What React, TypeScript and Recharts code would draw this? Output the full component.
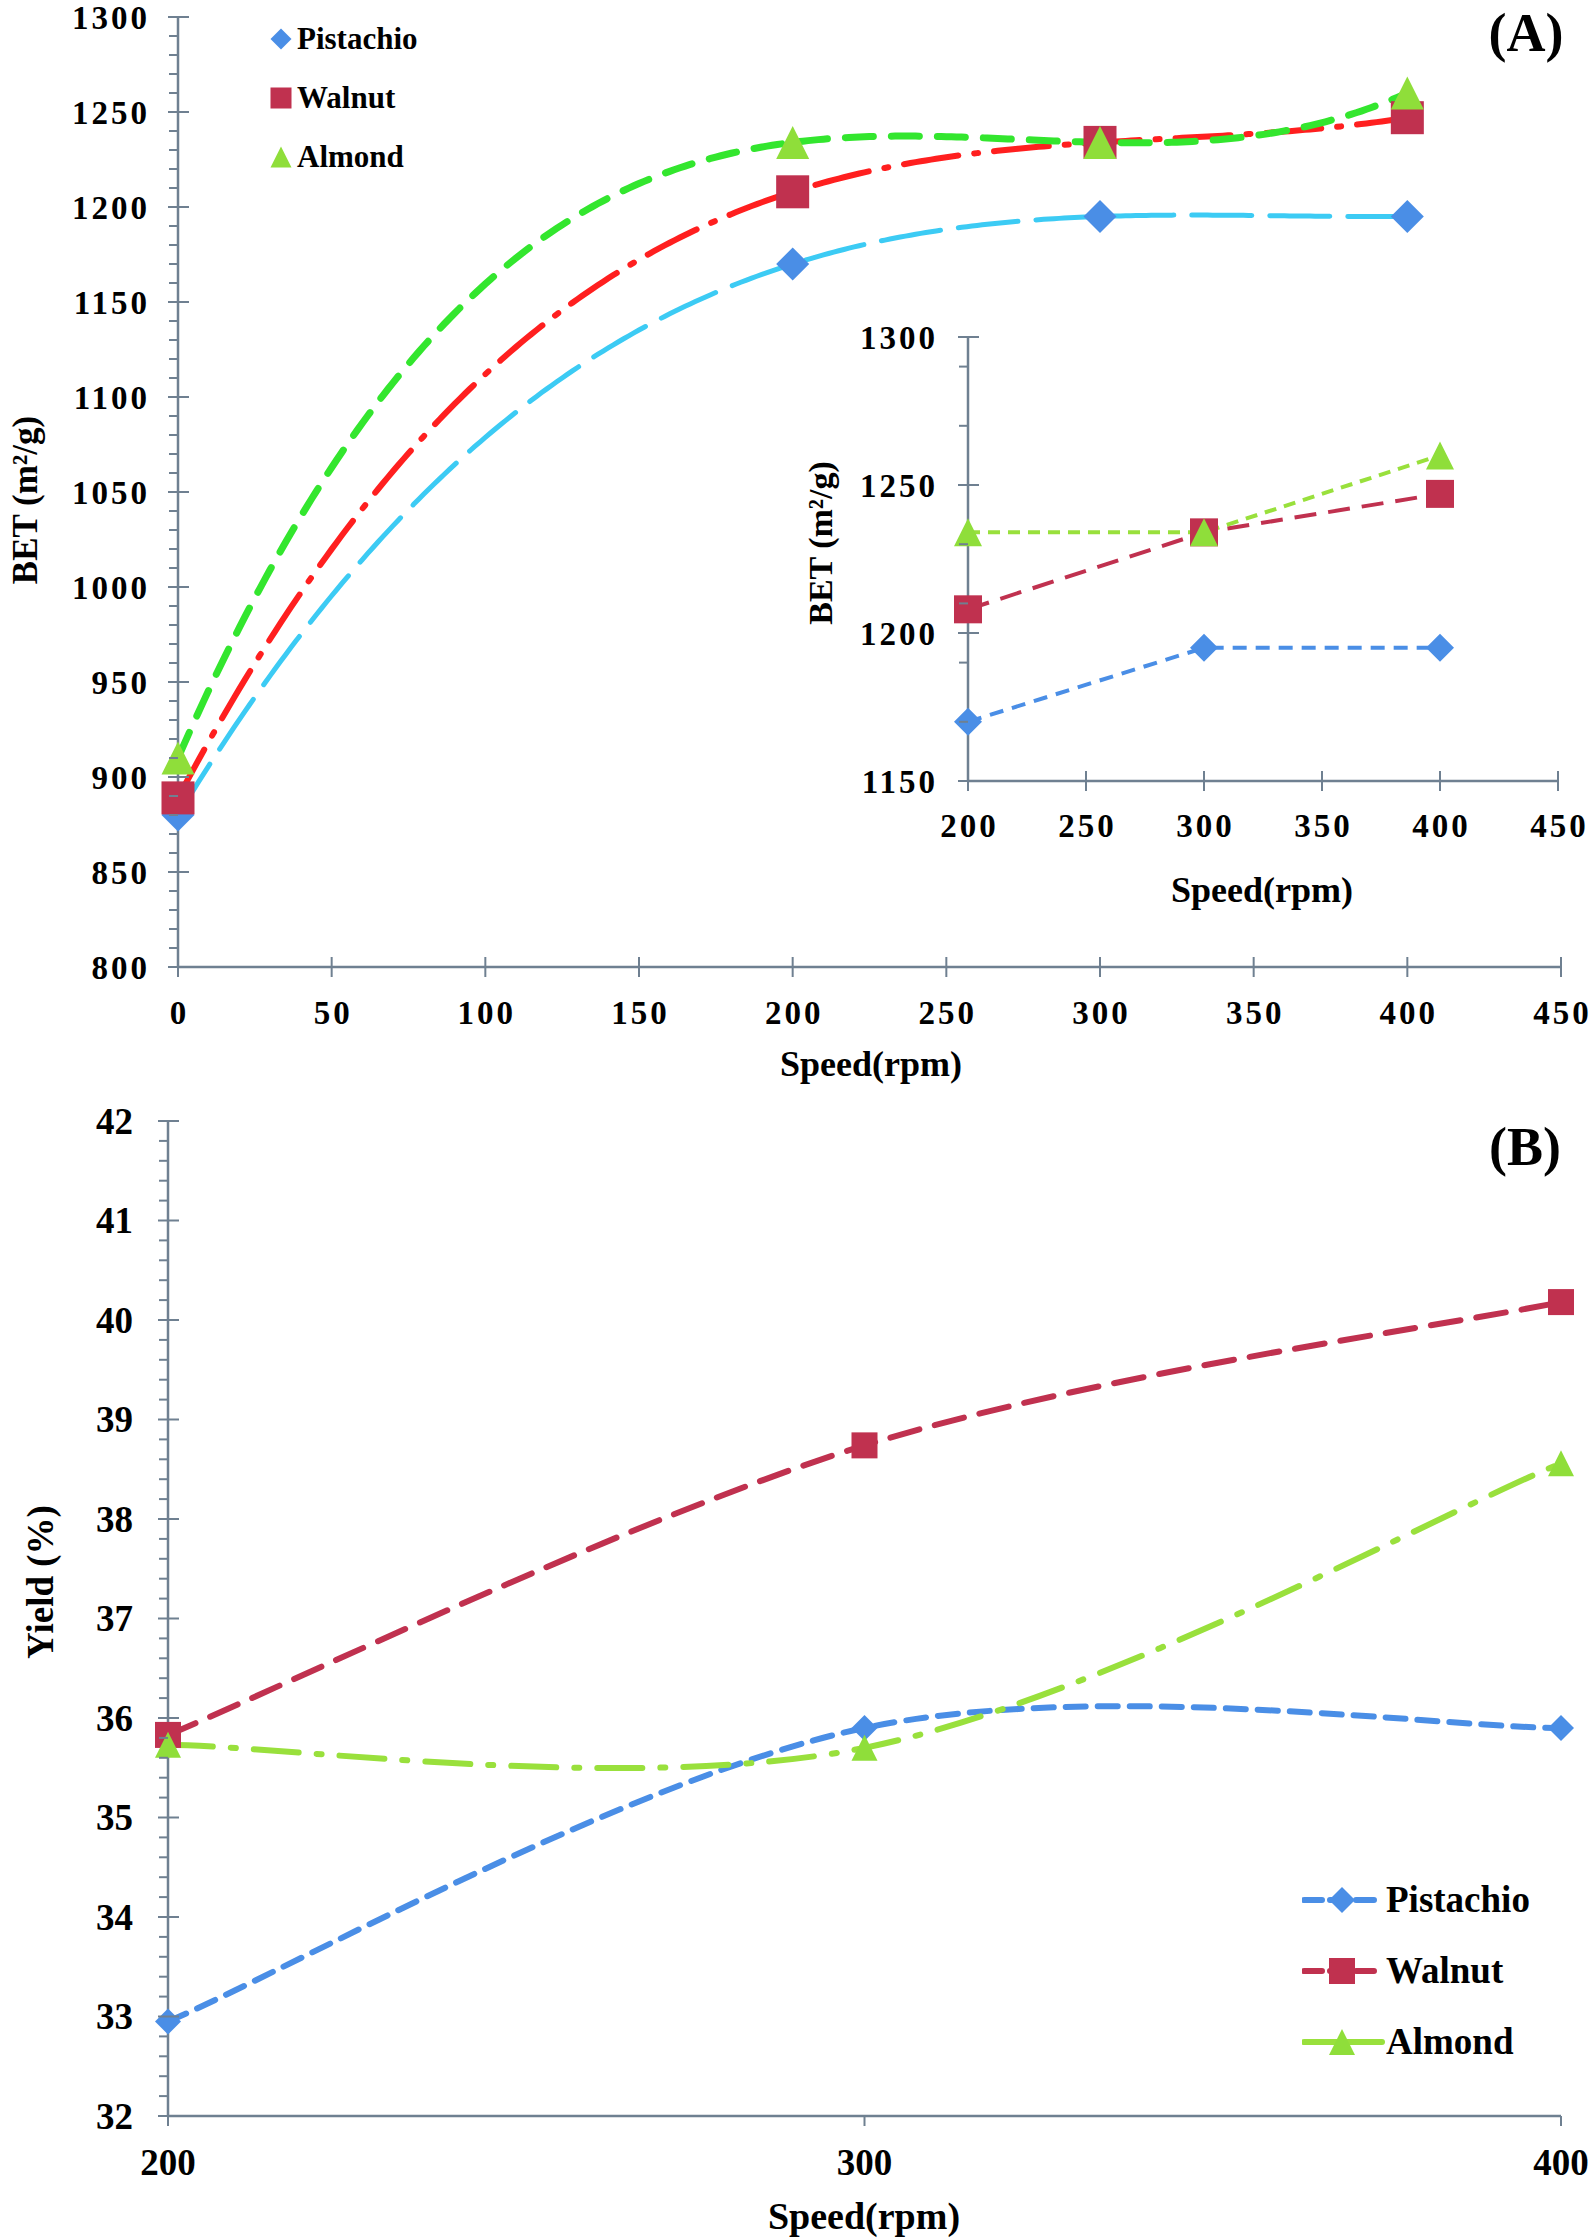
import React from 'react';
import { LineChart, Line, XAxis, YAxis, Legend } from 'recharts';

// ---- data ----
const speedA = [0, 200, 300, 400];
const betPistachio = [880, 1170, 1195, 1195];
const betWalnut = [889, 1208, 1234, 1247];
const betAlmond = [910, 1234, 1234, 1260];

const speedB = [200, 300, 400];
const yieldPistachio = [32.95, 35.9, 35.9];
const yieldWalnut = [35.83, 38.74, 40.18];
const yieldAlmond = [35.73, 35.7, 38.56];

const betTicks = [800, 850, 900, 950, 1000, 1050, 1100, 1150, 1200, 1250, 1300];
const speedTicksA = [0, 50, 100, 150, 200, 250, 300, 350, 400, 450];
const insetBetTicks = [1150, 1200, 1250, 1300];
const insetSpeedTicks = [200, 250, 300, 350, 400, 450];
const yieldTicks = [32, 33, 34, 35, 36, 37, 38, 39, 40, 41, 42];
const speedTicksB = [200, 300, 400];

const AXIS = '#6f8091';
const FONT = "'Liberation Serif', 'Times New Roman', serif";

const MARK = { pistachio: '#4a8ee6', walnut: '#c0314f', almond: '#8fde3a' };
const TREND = { pistachio: '#3ccbf4', walnut: '#ff1f1f', almond: '#33e62e' };
const INSET = { pistachio: '#4a8ee6', walnut: '#c0314f', almond: '#99e03c' };

type Kind = 'diamond' | 'square' | 'triangle';

const series: { key: 'pistachio' | 'walnut' | 'almond'; name: string; kind: Kind }[] = [
  { key: 'pistachio', name: 'Pistachio', kind: 'diamond' },
  { key: 'walnut', name: 'Walnut', kind: 'square' },
  { key: 'almond', name: 'Almond', kind: 'triangle' },
];

const tableA = speedA.map((s, i) => ({ speed: s, pistachio: betPistachio[i], walnut: betWalnut[i], almond: betAlmond[i] }));
const tableInset = tableA.slice(1);
const tableB = speedB.map((s, i) => ({ speed: s, pistachio: yieldPistachio[i], walnut: yieldWalnut[i], almond: yieldAlmond[i] }));

// minor tick positions (axis decoration only)
function range(start: number, end: number, step: number) {
  const out: number[] = [];
  for (let v = start; v <= end + step / 2; v += step) out.push(Math.round(v * 100) / 100);
  return out;
}
function merge(major: number[], minor: number[]) {
  const all = [...major, ...minor].map(v => Math.round(v * 100) / 100);
  return Array.from(new Set(all)).sort((a, b) => a - b);
}

// polynomial trendline through the plotted points (like Excel's order-3 trendline)
function polyCurve(context: any) {
  let xs: number[] = [];
  let ys: number[] = [];
  return {
    areaStart() {},
    areaEnd() {},
    lineStart() { xs = []; ys = []; },
    point(x: number, y: number) { xs.push(+x); ys.push(+y); },
    lineEnd() {
      const n = xs.length;
      if (!n) return;
      const f = (t: number) => {
        let s = 0;
        for (let i = 0; i < n; i++) {
          let l = 1;
          for (let j = 0; j < n; j++) if (j !== i) l *= (t - xs[j]) / (xs[i] - xs[j]);
          s += ys[i] * l;
        }
        return s;
      };
      context.moveTo(xs[0], ys[0]);
      const steps = 240;
      for (let k = 1; k <= steps; k++) {
        const t = xs[0] + ((xs[n - 1] - xs[0]) * k) / steps;
        context.lineTo(t, f(t));
      }
    },
  };
}

// Excel-style smoothed line (Catmull-Rom Bezier)
function smoothCurve(context: any) {
  let pts: number[][] = [];
  return {
    areaStart() {},
    areaEnd() {},
    lineStart() { pts = []; },
    point(x: number, y: number) { pts.push([+x, +y]); },
    lineEnd() {
      const n = pts.length;
      if (!n) return;
      context.moveTo(pts[0][0], pts[0][1]);
      for (let i = 0; i < n - 1; i++) {
        const p0 = pts[Math.max(i - 1, 0)];
        const p1 = pts[i];
        const p2 = pts[i + 1];
        const p3 = pts[Math.min(i + 2, n - 1)];
        context.bezierCurveTo(
          p1[0] + (p2[0] - p0[0]) / 6, p1[1] + (p2[1] - p0[1]) / 6,
          p2[0] - (p3[0] - p1[0]) / 6, p2[1] - (p3[1] - p1[1]) / 6,
          p2[0], p2[1],
        );
      }
    },
  };
}

function Marker({ kind, cx, cy, size, color }: { kind: Kind; cx: number; cy: number; size: number; color: string }) {
  const h = size / 2;
  if (kind === 'diamond') return <polygon points={`${cx},${cy - h} ${cx + h},${cy} ${cx},${cy + h} ${cx - h},${cy}`} fill={color} />;
  if (kind === 'square') return <rect x={cx - h} y={cy - h} width={size} height={size} fill={color} />;
  return <polygon points={`${cx},${cy - h} ${cx + h},${cy + h} ${cx - h},${cy + h}`} fill={color} />;
}

const dotOf = (kind: Kind, size: number, color: string) => (p: any) => (
  <Marker key={`d-${p.index}`} kind={kind} cx={p.cx} cy={p.cy} size={size} color={color} />
);

const makeYTick = (labels: number[], fontSize: number, gap: number, ls: number) => (props: any) => {
  const { x, y, payload } = props;
  const v = payload.value;
  const major = labels.some(l => Math.abs(l - v) < 1e-6);
  return (
    <g>
      {major
        ? <line x1={x - 10} x2={x + 11} y1={y} y2={y} stroke={AXIS} strokeWidth={2} />
        : <line x1={x - 9} x2={x} y1={y} y2={y} stroke={AXIS} strokeWidth={2} />}
      {major && (
        <text x={x - gap + ls} y={y} dy="0.35em" textAnchor="end" fontFamily={FONT} fontWeight="bold"
          fontSize={fontSize} letterSpacing={ls} fill="#000">{v}</text>
      )}
    </g>
  );
};

const makeXTick = (fontSize: number, offset: number, ls: number, up: number) => (props: any) => {
  const { x, y, payload } = props;
  return (
    <g>
      <line x1={x} x2={x} y1={y - up} y2={y + 10} stroke={AXIS} strokeWidth={2} />
      <text x={x + ls / 2} y={y + offset} dy="0.35em" textAnchor="middle" fontFamily={FONT} fontWeight="bold"
        fontSize={fontSize} letterSpacing={ls} fill="#000">{payload.value}</text>
    </g>
  );
};

const text = (size: number): React.CSSProperties => ({
  position: 'absolute', fontFamily: FONT, fontWeight: 'bold', fontSize: size, color: '#000',
  whiteSpace: 'nowrap', lineHeight: 1,
});

function LegendA() {
  return (
    <div style={{ fontFamily: FONT, fontWeight: 'bold', fontSize: 31, color: '#000' }}>
      {series.map(s => (
        <div key={s.key} style={{ display: 'flex', alignItems: 'center', height: 59 }}>
          <svg width={33} height={30}>
            <Marker kind={s.kind} cx={17} cy={15} size={21} color={MARK[s.key]} />
          </svg>
          <span style={{ lineHeight: 1 }}>{s.name}</span>
        </div>
      ))}
    </div>
  );
}

const dashB = { pistachio: '20 12', walnut: '30 16', almond: '45 18 5 18' };

function LegendB() {
  return (
    <div style={{ fontFamily: FONT, fontWeight: 'bold', fontSize: 37, color: '#000' }}>
      {series.map(s => (
        <div key={s.key} style={{ display: 'flex', alignItems: 'center', height: 71 }}>
          <svg width={84} height={40}>
            <line x1={2} x2={80} y1={20} y2={20} stroke={INSET[s.key]} strokeWidth={6}
              strokeDasharray={s.key === 'almond' ? undefined : '18 8'} strokeLinecap="round" />
            <Marker kind={s.kind} cx={40} cy={20} size={26} color={MARK[s.key]} />
          </svg>
          <span style={{ lineHeight: 1 }}>{s.name}</span>
        </div>
      ))}
    </div>
  );
}

export default function App() {
  const trendDash = { pistachio: '60 18', walnut: '55 16 4 16', almond: '28 18' };
  const trendWidth = { pistachio: 5, walnut: 6, almond: 7 };
  const insetDash = { pistachio: '14 9', walnut: '22 12', almond: '12 8' };
  const axisLine = { stroke: AXIS, strokeWidth: 2.5 };

  return (
    <div style={{ position: 'absolute', left: 0, top: 0, width: 1595, height: 2238, background: '#fff' }}>
      {/* Panel A main */}
      <div style={{ position: 'absolute', left: 0, top: 0 }}>
        <LineChart width={1595} height={1100} data={tableA} margin={{ top: 17, right: 34, bottom: 132, left: 177 }}>
          <XAxis dataKey="speed" type="number" domain={[0, 450]} ticks={speedTicksA} interval={0} height={1}
            axisLine={axisLine} tickLine={false} tickSize={0} tickMargin={0}
            tick={makeXTick(33, 45, 3, 10)} />
          <YAxis type="number" domain={[800, 1300]} ticks={merge(betTicks, range(800, 1300, 10))} interval={0} width={1}
            axisLine={axisLine} tickLine={false} tickSize={0} tickMargin={0}
            tick={makeYTick(betTicks, 33, 31, 3)} />
          {series.map(s => (
            <Line key={`m-${s.key}`} dataKey={s.key} stroke="none" isAnimationActive={false} legendType="none"
              dot={dotOf(s.kind, 33, MARK[s.key])} activeDot={false} />
          ))}
          {series.map(s => (
            <Line key={`t-${s.key}`} dataKey={s.key} type={polyCurve as any} stroke={TREND[s.key]} strokeWidth={trendWidth[s.key]}
              strokeDasharray={trendDash[s.key]} strokeLinecap="round" dot={false} activeDot={false}
              isAnimationActive={false} legendType="none" />
          ))}
          <Legend layout="vertical" align="center" verticalAlign="middle"
            wrapperStyle={{ left: 264, top: 9, width: 'auto' }} content={() => <LegendA />} />
        </LineChart>
      </div>

      {/* Panel A inset */}
      <div style={{ position: 'absolute', left: 860, top: 300 }}>
        <LineChart width={735} height={600} data={tableInset} margin={{ top: 37, right: 37, bottom: 118, left: 107 }}>
          <XAxis dataKey="speed" type="number" domain={[200, 450]} ticks={insetSpeedTicks} interval={0} height={1}
            axisLine={axisLine} tickLine={false} tickSize={0} tickMargin={0}
            tick={makeXTick(33, 44, 3, 10)} />
          <YAxis type="number" domain={[1150, 1300]} ticks={merge(insetBetTicks, range(1150, 1290, 20))} interval={0} width={1}
            axisLine={axisLine} tickLine={false} tickSize={0} tickMargin={0}
            tick={makeYTick(insetBetTicks, 33, 33, 3)} />
          {series.map(s => (
            <Line key={`i-${s.key}`} dataKey={s.key} type="linear" stroke={INSET[s.key]} strokeWidth={4}
              strokeDasharray={insetDash[s.key]} dot={dotOf(s.kind, 28, MARK[s.key])} activeDot={false}
              isAnimationActive={false} legendType="none" />
          ))}
        </LineChart>
      </div>

      {/* Panel B */}
      <div style={{ position: 'absolute', left: 0, top: 1100 }}>
        <LineChart width={1595} height={1138} data={tableB} margin={{ top: 21, right: 34, bottom: 121, left: 167 }}>
          <XAxis dataKey="speed" type="number" domain={[200, 400]} ticks={speedTicksB} interval={0} height={1}
            axisLine={axisLine} tickLine={false} tickSize={0} tickMargin={0}
            tick={makeXTick(37, 46, 0, 0)} />
          <YAxis type="number" domain={[32, 42]} ticks={merge(yieldTicks, range(32, 42, 0.2))} interval={0} width={1}
            axisLine={axisLine} tickLine={false} tickSize={0} tickMargin={0}
            tick={makeYTick(yieldTicks, 37, 35, 0)} />
          {series.map(s => (
            <Line key={`b-${s.key}`} dataKey={s.key} type={smoothCurve as any} stroke={INSET[s.key]} strokeWidth={6}
              strokeDasharray={dashB[s.key]} strokeLinecap="round" dot={dotOf(s.kind, 26, MARK[s.key])}
              activeDot={false} isAnimationActive={false} legendType="none" />
          ))}
          <Legend layout="vertical" align="center" verticalAlign="middle"
            wrapperStyle={{ left: 1302, top: 764, width: 'auto' }} content={() => <LegendB />} />
        </LineChart>
      </div>

      {/* titles */}
      <div style={{ ...text(36), left: 871, top: 1064, transform: 'translate(-50%, -50%)' }}>Speed(rpm)</div>
      <div style={{ ...text(35), left: 25, top: 500, transform: 'translate(-50%, -50%) rotate(-90deg)' }}>BET (m²/g)</div>
      <div style={{ ...text(36), left: 1262, top: 890, transform: 'translate(-50%, -50%)' }}>Speed(rpm)</div>
      <div style={{ ...text(34), left: 821, top: 543, transform: 'translate(-50%, -50%) rotate(-90deg)' }}>BET (m²/g)</div>
      <div style={{ ...text(54), left: 1526, top: 33, transform: 'translate(-50%, -50%)' }}>(A)</div>

      <div style={{ ...text(38), left: 864, top: 2216, transform: 'translate(-50%, -50%)' }}>Speed(rpm)</div>
      <div style={{ ...text(37), left: 40, top: 1582, transform: 'translate(-50%, -50%) rotate(-90deg)' }}>Yield (%)</div>
      <div style={{ ...text(54), left: 1525, top: 1147, transform: 'translate(-50%, -50%)' }}>(B)</div>
    </div>
  );
}
